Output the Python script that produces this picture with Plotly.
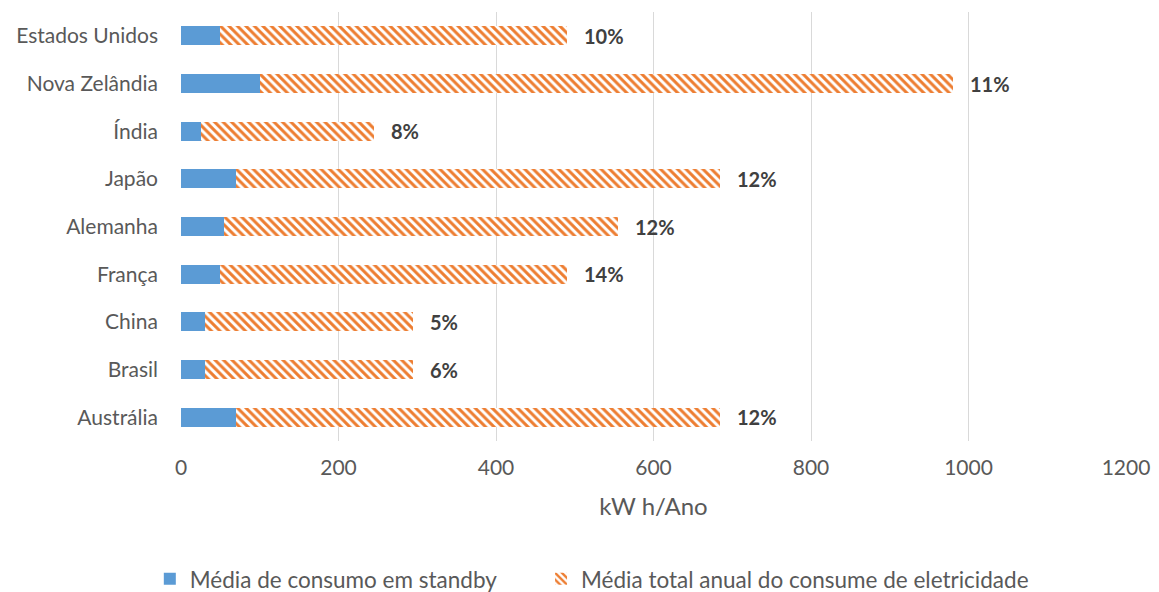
import plotly.graph_objects as go

countries = ["Austrália", "Brasil", "China", "França", "Alemanha", "Japão", "Índia", "Nova Zelândia", "Estados Unidos"]
standby = [70, 30, 30, 50, 55, 70, 25, 100, 50]
total = [685, 295, 295, 490, 555, 685, 245, 980, 490]
labels = ["12%", "6%", "5%", "14%", "12%", "12%", "8%", "11%", "10%"]
ticks = [0, 200, 400, 600, 800, 1000, 1200]

rest = [t - s for t, s in zip(total, standby)]

FONT = "Lato"
fig = go.Figure()
fig.add_trace(go.Bar(
    y=countries, x=standby, orientation="h",
    name="Média de consumo em standby",
    marker=dict(color="#5B9BD5", line=dict(width=0)),
    legend="legend",
))
fig.add_trace(go.Bar(
    y=countries, x=rest, orientation="h",
    name="Média total anual do consume de eletricidade",
    marker=dict(color="#ED7D31", line=dict(width=0),
                pattern=dict(shape="\\", fgcolor="#ED7D31", bgcolor="white",
                             size=6, solidity=0.5, fillmode="replace")),
    legend="legend2",
))

for c, t, lab in zip(countries, total, labels):
    fig.add_annotation(x=t, y=c, text="<b>" + lab + "</b>", showarrow=False,
                       xanchor="left", xshift=15,
                       font=dict(family=FONT, size=20, color="#404040"))

leg_common = dict(orientation="h", y=-0.322, yanchor="middle",
                  font=dict(size=22.5, color="#595959"), itemwidth=30)

fig.update_layout(
    barmode="stack", bargap=0.6,
    width=1159, height=592,
    margin=dict(l=181, r=33, t=12, b=151, autoexpand=False),
    plot_bgcolor="white", paper_bgcolor="white",
    font=dict(family=FONT, size=21, color="#595959"),
    xaxis=dict(range=[0, 1200], tickvals=ticks, showgrid=True, gridcolor="#D9D9D9",
               gridwidth=1, zeroline=False, showline=False, ticks="",
               ticklabelstandoff=12, tickfont=dict(size=21, color="#595959"),
               title=dict(text="kW h/Ano", font=dict(size=24, color="#595959"), standoff=20)),
    yaxis=dict(showgrid=False, ticks="", showline=False, ticklabelstandoff=22,
               tickfont=dict(size=21, color="#595959")),
    legend=dict(x=-0.033, xanchor="left", **leg_common),
    legend2=dict(x=0.381, xanchor="left", **leg_common),
    showlegend=True,
)

fig.write_html("out.html")
